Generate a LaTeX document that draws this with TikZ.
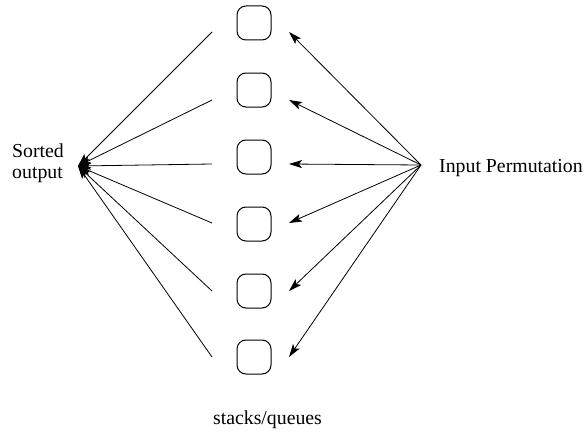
\documentclass[tikz,border=0pt]{standalone}
\usepackage{fontspec}
\setmainfont{Liberation Serif}
\usepackage{tikz}
\usetikzlibrary{positioning,calc,arrows.meta}

\begin{document}
\begin{tikzpicture}[x=1pt,y=-1pt,
        font=\fontsize{19.8}{21}\selectfont,
        slot/.style={draw,line width=1pt,rounded corners=9pt,minimum size=34pt,inner sep=0pt},
        flow/.style={line width=0.8pt,-{Stealth[length=13pt,width=8pt,inset=3pt]}}]
        \useasboundingbox (0,0) rectangle (585,436);

        \coordinate (sorted) at (78,166);
        \coordinate (input) at (421,165);

        % boxes and line ends
        \foreach \i/\yb/\yl in {1/23/32, 2/90/100, 3/157/164, 4/224/223, 5/291/291, 6/357/357} {
            \node[slot] (box\i) at (254,\yb) {};
            \coordinate (out\i) at (212,\yl);
            \coordinate (in\i) at (289,\yl);
            \draw[flow] (out\i) -- (sorted);
            \draw[flow] (input) -- (in\i);
        }

        \node[anchor=west,inner sep=0pt,align=left] (sortlbl) at (12,163) {Sorted\\output};
        \node[anchor=base west,inner sep=0pt] (inlbl) at (439,172) {Input Permutation};
        \node[anchor=base,inner sep=0pt] (stacklbl) at (267.5,424) {stacks/queues};
    \end{tikzpicture}
\end{document}
